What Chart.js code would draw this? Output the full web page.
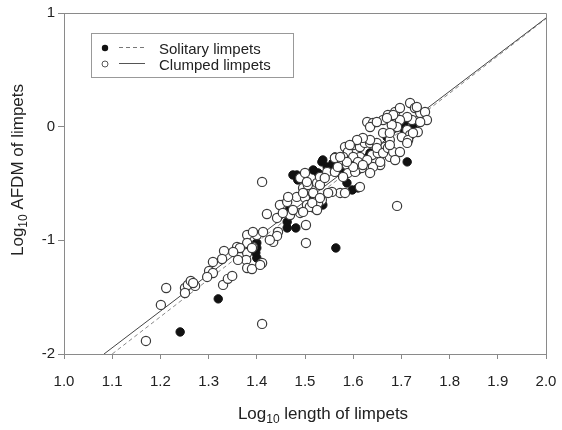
<!DOCTYPE html>
<html>
<head>
<meta charset="utf-8">
<script src="https://cdn.jsdelivr.net/npm/chart.js@4.4.0/dist/chart.umd.min.js"></script>
<style>
  body { margin: 0; background: #fff; }
  #wrap { width: 562px; height: 430px; }
</style>
</head>
<body>
<div id="wrap"><canvas id="c" width="562" height="430"></canvas></div>
<script>
"use strict";

/* clumped limpets (open circles): log10 length, log10 AFDM */
var clumpedX = [1.170, 1.201, 1.212, 1.411, 1.411, 1.411, 1.691, 1.502, 1.332, 1.328,
                1.301, 1.309, 1.297, 1.251, 1.257, 1.263, 1.272, 1.251, 1.330, 1.340,
                1.349, 1.359, 1.365, 1.380, 1.378, 1.380, 1.390, 1.407, 1.392, 1.400,
                1.380, 1.392, 1.413, 1.421, 1.442, 1.444, 1.434, 1.442, 1.452, 1.469,
                1.448, 1.463, 1.483, 1.500, 1.504, 1.490, 1.427, 1.502, 1.380, 1.390,
                1.365, 1.351, 1.309, 1.361, 1.268, 1.465, 1.475, 1.496, 1.490, 1.500,
                1.506, 1.517, 1.525, 1.531, 1.546, 1.562, 1.562, 1.577, 1.587, 1.573,
                1.583, 1.556, 1.535, 1.589, 1.608, 1.614, 1.583, 1.589, 1.600, 1.614,
                1.624, 1.614, 1.600, 1.527, 1.510, 1.496, 1.454, 1.504, 1.496, 1.531,
                1.541, 1.568, 1.579, 1.635, 1.639, 1.651, 1.666, 1.676, 1.656, 1.641,
                1.629, 1.618, 1.604, 1.610, 1.548, 1.531, 1.515, 1.579, 1.635, 1.525,
                1.629, 1.641, 1.635, 1.662, 1.672, 1.687, 1.697, 1.718, 1.728, 1.739,
                1.749, 1.753, 1.722, 1.712, 1.697, 1.691, 1.680, 1.712, 1.734, 1.718,
                1.701, 1.676, 1.662, 1.649, 1.635, 1.620, 1.608, 1.593, 1.649, 1.662,
                1.672, 1.683, 1.697, 1.687, 1.656, 1.620, 1.600, 1.587, 1.573, 1.714,
                1.739, 1.724, 1.683, 1.676, 1.712, 1.676, 1.732, 1.649, 1.670];
var clumpedY = [-1.885, -1.568, -1.419, -1.735, -1.199, -0.486, -0.697, -1.023, -1.093, -1.164,
                -1.269, -1.287, -1.322, -1.419, -1.392, -1.357, -1.401, -1.463, -1.392, -1.339,
                -1.313, -1.058, -1.146, -1.111, -1.172, -1.243, -1.252, -1.216, -1.058, -0.953,
                -0.953, -0.926, -0.926, -0.768, -0.803, -0.926, -1.014, -0.961, -0.689, -0.777,
                -0.689, -0.662, -0.618, -0.627, -0.689, -0.759, -0.996, -0.865, -1.023, -1.067,
                -1.067, -1.102, -1.190, -1.172, -1.375, -0.618, -0.733, -0.539, -0.451, -0.407,
                -0.513, -0.583, -0.495, -0.442, -0.398, -0.398, -0.275, -0.310, -0.337, -0.583,
                -0.583, -0.574, -0.645, -0.407, -0.381, -0.530, -0.179, -0.223, -0.161, -0.179,
                -0.143, -0.266, -0.266, -0.671, -0.706, -0.750, -0.759, -0.486, -0.583, -0.513,
                -0.451, -0.354, -0.266, -0.143, -0.249, -0.231, -0.179, -0.266, -0.337, -0.354,
                -0.293, -0.363, -0.398, -0.310, -0.583, -0.627, -0.671, -0.442, -0.407, -0.733,
                0.041, 0.033, -0.003, 0.059, 0.103, 0.129, 0.164, 0.208, 0.164, 0.120,
                0.129, 0.059, 0.059, 0.085, 0.059, -0.003, 0.015, -0.029, -0.047, -0.073,
                -0.091, -0.117, -0.055, -0.143, -0.117, -0.099, -0.117, -0.161, -0.187, -0.231,
                -0.187, -0.223, -0.223, -0.293, -0.310, -0.337, -0.354, -0.310, -0.266, -0.117,
                0.041, -0.055, 0.103, -0.055, -0.143, -0.161, 0.173, 0.041, 0.077];

/* solitary limpets (filled circles) */
var solitaryX = [1.241, 1.320, 1.564, 1.712, 1.463, 1.481, 1.400, 1.400, 1.400, 1.463,
                 1.463, 1.535, 1.527, 1.483, 1.485, 1.517, 1.587, 1.598, 1.537, 1.510,
                 1.517, 1.463, 1.566, 1.546, 1.537, 1.562, 1.556, 1.610, 1.506, 1.631,
                 1.701, 1.707, 1.724, 1.635, 1.579, 1.558, 1.703, 1.712, 1.670, 1.475,
                 1.398];
var solitaryY = [-1.806, -1.515, -1.067, -0.310, -0.891, -0.891, -1.155, -1.023, -1.067, -0.759,
                 -0.838, -0.310, -0.407, -0.425, -0.469, -0.381, -0.495, -0.557, -0.689, -0.671,
                 -0.715, -0.733, -0.319, -0.354, -0.293, -0.266, -0.354, -0.539, -0.618, -0.266,
                 0.015, 0.041, -0.003, -0.231, -0.381, -0.319, -0.011, -0.047, -0.091, -0.425,
                 -1.110];

/* fitted regression lines, end points */
var clumpedFitX = [1.083, 2.0];
var clumpedFitY = [-2.0, 0.956];
var solitaryFitX = [1.100, 2.0];
var solitaryFitY = [-2.0, 0.950];

var xTicks = [1.0, 1.1, 1.2, 1.3, 1.4, 1.5, 1.6, 1.7, 1.8, 1.9, 2.0];
var yTicks = [-2, -1, 0, 1];

var FONT = '"Liberation Sans", Arial, Helvetica, sans-serif';

function toPoints(xs, ys) {
    var pts = [];
    var i;
    for (i = 0; i < xs.length; i++) {
        pts.push({x: xs[i], y: ys[i]});
    }
    return pts;
}

/* text with a lowered "10" after the first part */
function drawSubText(ctx, cx, cy, head, sub, tail, size) {
    var subSize = Math.round(size * 0.68);
    ctx.font = size + 'px ' + FONT;
    var w1 = ctx.measureText(head).width;
    var w3 = ctx.measureText(tail).width;
    ctx.font = subSize + 'px ' + FONT;
    var w2 = ctx.measureText(sub).width;
    var x = cx - (w1 + w2 + w3) / 2;
    ctx.textAlign = 'left';
    ctx.textBaseline = 'alphabetic';
    ctx.font = size + 'px ' + FONT;
    ctx.fillText(head, x, cy);
    ctx.font = subSize + 'px ' + FONT;
    ctx.fillText(sub, x + w1, cy + 4);
    ctx.font = size + 'px ' + FONT;
    ctx.fillText(tail, x + w1 + w2, cy);
}

var decorations = {
    id: 'decorations',
    afterDraw: function (chart) {
        var ctx = chart.ctx;
        var a = chart.chartArea;
        ctx.save();

        /* top and right frame */
        ctx.strokeStyle = '#8a8a8a';
        ctx.lineWidth = 1;
        ctx.beginPath();
        ctx.moveTo(a.left, a.top + 0.5);
        ctx.lineTo(a.right + 0.5, a.top + 0.5);
        ctx.lineTo(a.right + 0.5, a.bottom);
        ctx.stroke();

        /* legend */
        ctx.strokeStyle = '#999';
        ctx.strokeRect(91.5, 33.5, 202, 44);
        ctx.fillStyle = '#111';
        ctx.beginPath();
        ctx.arc(105, 48, 3.2, 0, Math.PI * 2);
        ctx.fill();
        ctx.strokeStyle = '#555';
        ctx.lineWidth = 1;
        ctx.beginPath();
        ctx.arc(105, 64, 3, 0, Math.PI * 2);
        ctx.stroke();
        ctx.strokeStyle = '#777';
        ctx.setLineDash([4, 3]);
        ctx.beginPath();
        ctx.moveTo(119, 47.5);
        ctx.lineTo(145, 47.5);
        ctx.stroke();
        ctx.setLineDash([]);
        ctx.strokeStyle = '#555';
        ctx.beginPath();
        ctx.moveTo(119, 63.5);
        ctx.lineTo(145, 63.5);
        ctx.stroke();
        ctx.fillStyle = '#222';
        ctx.font = '15px ' + FONT;
        ctx.textAlign = 'left';
        ctx.textBaseline = 'middle';
        ctx.fillText('Solitary limpets', 159, 50);
        ctx.fillText('Clumped limpets', 159, 66);

        /* axis titles */
        ctx.fillStyle = '#222';
        drawSubText(ctx, 323, 419, 'Log', '10', ' length of limpets', 17);
        ctx.translate(23, 170);
        ctx.rotate(-Math.PI / 2);
        drawSubText(ctx, 0, 0, 'Log', '10', ' AFDM of limpets', 17);

        ctx.restore();
    }
};

var chart = new Chart(document.getElementById('c'), {
    type: 'scatter',
    data: {
        datasets: [
            {
                label: 'Clumped limpets',
                data: toPoints(clumpedX, clumpedY),
                pointStyle: 'circle',
                pointRadius: 4.6,
                pointBackgroundColor: '#fff',
                pointBorderColor: '#3a3a3a',
                pointBorderWidth: 1.2,
                order: 0
            },
            {
                label: 'Solitary limpets',
                data: toPoints(solitaryX, solitaryY),
                pointStyle: 'circle',
                pointRadius: 4.2,
                pointBackgroundColor: '#111',
                pointBorderColor: '#111',
                pointBorderWidth: 1,
                order: 1
            },
            {
                type: 'line',
                label: 'Clumped fit',
                data: toPoints(clumpedFitX, clumpedFitY),
                borderColor: '#444',
                borderWidth: 1,
                pointRadius: 0,
                fill: false,
                order: 2
            },
            {
                type: 'line',
                label: 'Solitary fit',
                data: toPoints(solitaryFitX, solitaryFitY),
                borderColor: '#888',
                borderWidth: 1,
                borderDash: [4, 3],
                pointRadius: 0,
                fill: false,
                order: 3
            }
        ]
    },
    options: {
        responsive: false,
        animation: false,
        devicePixelRatio: 1,
        layout: { padding: { top: 13, right: 16, left: 0, bottom: 0 } },
        plugins: {
            legend: { display: false },
            tooltip: { enabled: false }
        },
        scales: {
            x: {
                type: 'linear',
                min: 1.0,
                max: 2.0,
                afterBuildTicks: function (scale) {
                    scale.ticks = xTicks.map(function (v) { return {value: v}; });
                },
                afterFit: function (scale) {
                    scale.height = 76;
                    scale.paddingLeft = 0;
                    scale.paddingRight = 0;
                },
                ticks: {
                    color: '#222',
                    font: { family: FONT, size: 15 },
                    padding: 14,
                    maxRotation: 0,
                    callback: function (v) { return Number(v).toFixed(1); }
                },
                grid: { display: true, drawOnChartArea: false, drawTicks: true, tickLength: 5, color: '#888' },
                border: { display: true, color: '#8a8a8a', width: 1 }
            },
            y: {
                type: 'linear',
                min: -2,
                max: 1,
                afterBuildTicks: function (scale) {
                    scale.ticks = yTicks.map(function (v) { return {value: v}; });
                },
                afterFit: function (scale) {
                    scale.width = 64;
                    scale.paddingTop = 0;
                    scale.paddingBottom = 0;
                },
                ticks: {
                    color: '#222',
                    font: { family: FONT, size: 15 },
                    padding: 3,
                    callback: function (v) { return String(v); }
                },
                grid: { display: true, drawOnChartArea: false, drawTicks: true, tickLength: 6, color: '#888' },
                border: { display: true, color: '#8a8a8a', width: 1 }
            }
        }
    },
    plugins: [decorations]
});
</script>
</body>
</html>
